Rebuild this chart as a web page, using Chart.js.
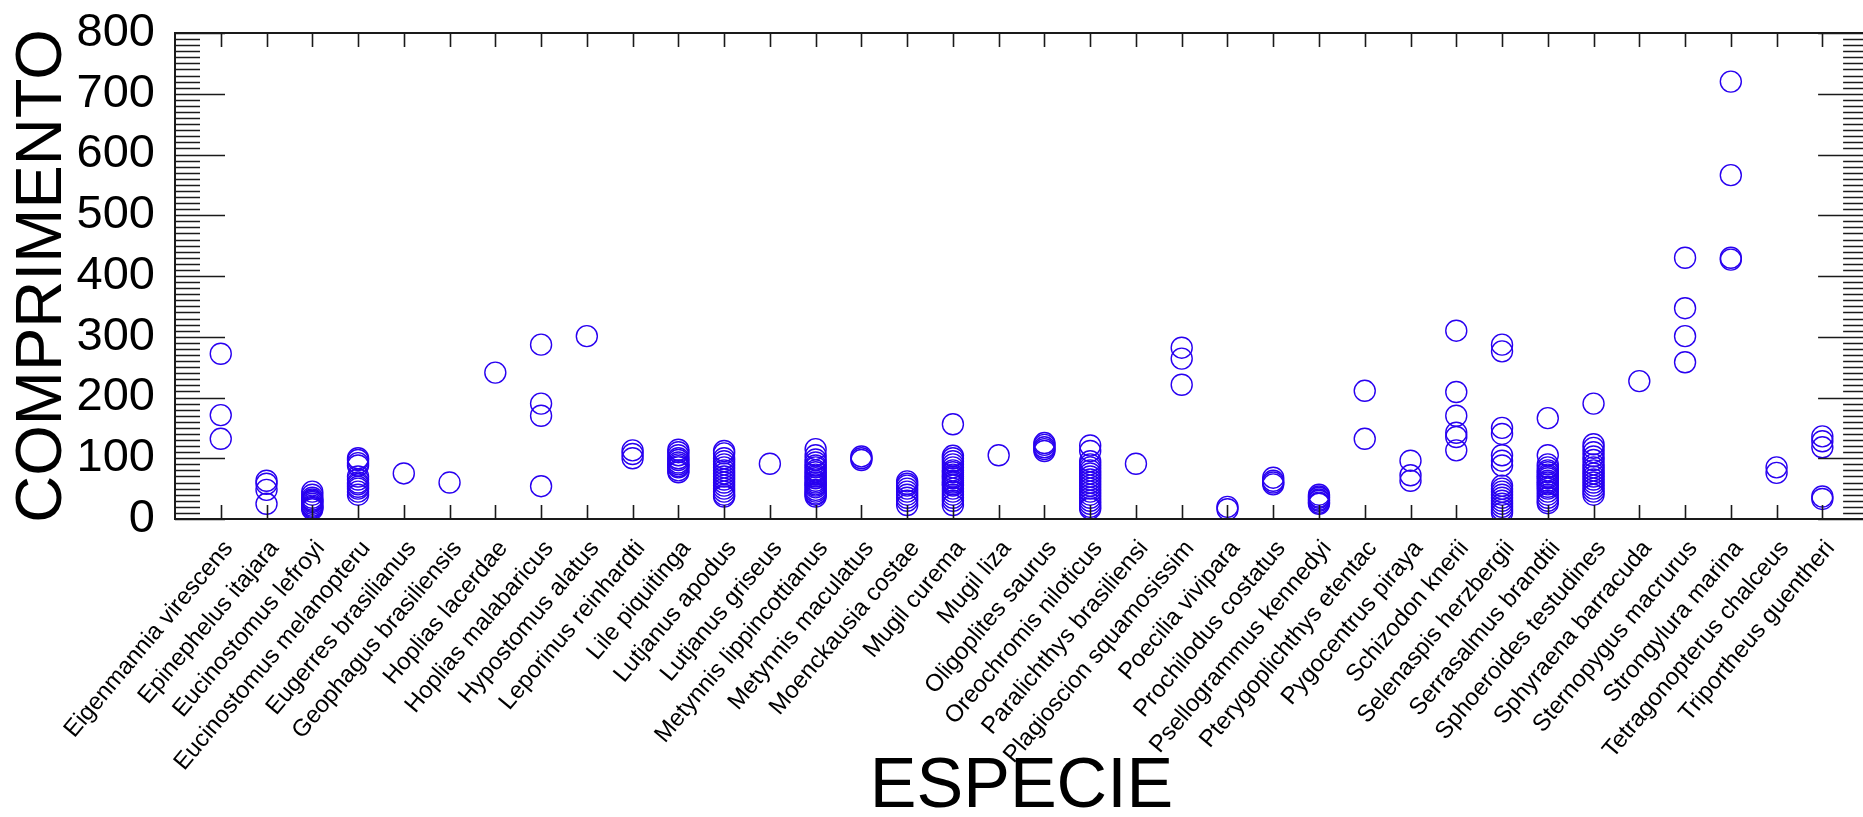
<!DOCTYPE html>
<html><head><meta charset="utf-8">
<script src="https://cdn.jsdelivr.net/npm/chart.js@4.4.1/dist/chart.umd.min.js"></script>
<style>
html,body{margin:0;padding:0;background:#fff;overflow:hidden;width:1863px;height:817px}
#wrap{position:absolute;left:0;top:0;width:1880px;height:817px}
</style></head>
<body><div id="wrap"><canvas id="c" width="1880" height="817"></canvas></div>
<script>
const categories = [
  'Eigenmannia virescens','Epinephelus itajara','Eucinostomus lefroyi','Eucinostomus melanopteru',
  'Eugerres brasilianus','Geophagus brasiliensis','Hoplias lacerdae','Hoplias malabaricus',
  'Hypostomus alatus','Leporinus reinhardti','Lile piquitinga','Lutjanus apodus','Lutjanus griseus',
  'Metynnis lippincottianus','Metynnis maculatus','Moenckausia costae','Mugil curema','Mugil liza',
  'Oligoplites saurus','Oreochromis niloticus','Paralichthys brasiliensi','Plagioscion squamosissim',
  'Poecilia vivipara','Prochilodus costatus','Psellogrammus kennedyi','Pterygoplichthys etentac',
  'Pygocentrus piraya','Schizodon knerii','Selenaspis herzbergii','Serrasalmus brandtii',
  'Sphoeroides testudines','Sphyraena barracuda','Sternopygus macrurus','Strongylura marina',
  'Tetragonopterus chalceus','Triportheus guentheri'
];
const yTicks = [0,100,200,300,400,500,600,700,800];

const eigenmanniaVirescens = [272,171,132];
const epinephelusItajara = [63,58,48,25];
const eucinostomusLefroyi = [45,40,35,32,30,28,25,22,20,18,16];
const eucinostomusMelanopteru = [100,97,92,88,70,65,60,57,53,50,45,40];
const eugerresBrasilianus = [75];
const geophagusBrasiliensis = [60];
const hopliasLacerdae = [241];
const hopliasMalabaricus = [287,190,170,54];
const hypostomusAlatus = [301];
const leporinusReinhardti = [113,107,100];
const lilePiquitinga = [114,110,105,100,97,93,90,87,85,80,77];
const lutjanusApodus = [112,108,100,95,90,85,80,75,70,65,60,55,50,45,40,37];
const lutjanusGriseus = [91];
const metynnisLippincottianus = [115,105,98,93,88,85,80,77,73,70,67,63,60,57,55,52,48,45,42,40,37];
const metynnisMaculatus = [103,100,97];
const moenckausiaCostae = [62,58,55,50,45,40,35,30,23];
const mugilCurema = [156,104,100,95,90,85,80,77,73,70,67,63,60,57,55,50,45,40,35,30,23];
const mugilLiza = [105];
const oligoplitesSaurus = [125,122,118,115,112];
const oreochromisNiloticus = [121,112,95,90,85,80,75,70,65,60,55,50,45,40,35,30,25,20,17];
const paralichthysBrasiliensi = [91];
const plagioscionSquamosissim = [282,264,221];
const poeciliaVivipara = [20,16];
const prochilodusCostatus = [68,63,60,57];
const psellogrammusKennedyi = [40,37,35,32,30,27,25];
const pterygoplichthysEtentac = [211,132];
const pygocentrusPiraya = [96,72,63];
const schizodonKnerii = [310,209,170,142,135,113];
const selenaspisHerzbergii = [287,276,150,140,105,96,88,55,50,45,40,35,30,25,20,15,10];
const serrasalmusBrandtii = [166,105,90,85,80,77,73,70,67,63,60,57,53,50,45,40,35,30,26];
const sphoeroidesTestudines = [190,123,117,110,103,97,90,85,80,75,70,65,60,55,50,45,40];
const sphyraenaBarracuda = [227];
const sternopygusMacrurus = [430,347,301,258];
const strongyluraMarina = [720,566,430,427];
const tetragonopterusChalceus = [85,76];
const triportheusGuentheri = [136,128,118,37,33];

const seriesValues = [
  eigenmanniaVirescens, epinephelusItajara, eucinostomusLefroyi, eucinostomusMelanopteru,
  eugerresBrasilianus, geophagusBrasiliensis, hopliasLacerdae, hopliasMalabaricus,
  hypostomusAlatus, leporinusReinhardti, lilePiquitinga, lutjanusApodus, lutjanusGriseus,
  metynnisLippincottianus, metynnisMaculatus, moenckausiaCostae, mugilCurema, mugilLiza,
  oligoplitesSaurus, oreochromisNiloticus, paralichthysBrasiliensi, plagioscionSquamosissim,
  poeciliaVivipara, prochilodusCostatus, psellogrammusKennedyi, pterygoplichthysEtentac,
  pygocentrusPiraya, schizodonKnerii, selenaspisHerzbergii, serrasalmusBrandtii,
  sphoeroidesTestudines, sphyraenaBarracuda, sternopygusMacrurus, strongyluraMarina,
  tetragonopterusChalceus, triportheusGuentheri
];

const points = [];
seriesValues.forEach((vals, i) => vals.forEach(v => points.push({x: i + 1, y: v})));

const FONT = '"Liberation Sans", Arial, sans-serif';
const AXIS = '#1a1a1a';
const framePlugin = {
  id: 'frame',
  afterDatasetsDraw(chart) {
    const {ctx, chartArea: a, scales} = chart;
    const xs = scales.x, ys = scales.y;
    ctx.save();
    ctx.strokeStyle = AXIS;
    ctx.lineWidth = 2;
    ctx.strokeRect(a.left, a.top, a.right - a.left, a.bottom - a.top);
    ctx.lineWidth = 1.6;
    ctx.beginPath();
    categories.forEach((c, i) => {
      const px = Math.round(xs.getPixelForValue(i + 1)) + 0.5;
      ctx.moveTo(px, a.bottom); ctx.lineTo(px, a.bottom - 14);
      ctx.moveTo(px, a.top); ctx.lineTo(px, a.top + 14);
    });
    const ymin = yTicks[0], ymax = yTicks[yTicks.length - 1];
    for (let v = ymin; v <= ymax; v += 10) {
      const py = Math.round(ys.getPixelForValue(v)) + 0.5;
      const len = (v % 100 === 0) ? 50 : 25;
      ctx.moveTo(a.left, py); ctx.lineTo(a.left + len, py);
      ctx.moveTo(a.right, py); ctx.lineTo(a.right - len, py);
    }
    ctx.stroke();
    ctx.restore();
  }
};

new Chart(document.getElementById('c'), {
  type: 'scatter',
  data: {
    datasets: [{
      data: points,
      pointStyle: 'circle',
      pointRadius: 10.5,
      pointBorderWidth: 1.4,
      pointBorderColor: 'rgb(40,0,240)',
      pointBackgroundColor: 'rgba(0,0,0,0)',
      showLine: false
    }]
  },
  options: {
    responsive: false,
    animation: false,
    devicePixelRatio: 1,
    layout: {padding: {left: 0, right: 8, top: 33, bottom: 0}},
    plugins: {legend: {display: false}, tooltip: {enabled: false}},
    scales: {
      x: {
        type: 'linear', min: 0, max: categories.length + 1,
        grid: {display: false, drawTicks: false},
        border: {display: false},
        afterBuildTicks(scale) { scale.ticks = categories.map((c, i) => ({value: i + 1})); },
        afterFit(scale) { scale.height = 298; scale.paddingLeft = 0; scale.paddingRight = 0; },
        ticks: {
          autoSkip: false, minRotation: 50, maxRotation: 50, padding: 16, labelOffset: 8,
          color: '#000',
          font: {family: FONT, size: 24},
          callback: (v) => categories[v - 1] || ''
        },
        title: {
          display: true, text: 'ESPECIE', color: '#000',
          font: {family: FONT, size: 70, lineHeight: 1.0},
          padding: {top: 0, bottom: -6}
        }
      },
      y: {
        min: yTicks[0], max: yTicks[yTicks.length - 1],
        grid: {display: false, drawTicks: false},
        border: {display: false},
        afterBuildTicks(scale) { scale.ticks = yTicks.map(v => ({value: v})); },
        afterFit(scale) { scale.width = 175; scale.paddingTop = 0; scale.paddingBottom = 0; },
        ticks: {
          padding: 20, color: '#000',
          font: {family: FONT, size: 47},
          callback: (v) => String(v)
        },
        title: {
          display: true, text: 'COMPRIMENTO', color: '#000',
          font: {family: FONT, size: 65, lineHeight: 1.2},
          padding: {top: 4, bottom: 0}
        }
      }
    }
  },
  plugins: [framePlugin]
});
</script>
</body></html>
